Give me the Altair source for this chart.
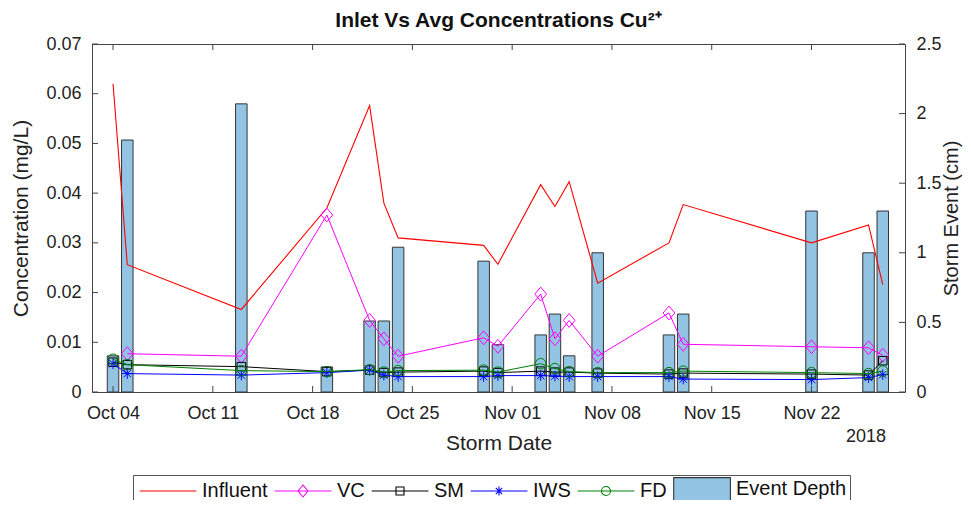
import altair as alt
import pandas as pd

# ---------------- data ----------------
dates = ["2018-10-04", "2018-10-05", "2018-10-13", "2018-10-19", "2018-10-22",
         "2018-10-23", "2018-10-24", "2018-10-30", "2018-10-31", "2018-11-03",
         "2018-11-04", "2018-11-05", "2018-11-07", "2018-11-12", "2018-11-13",
         "2018-11-22", "2018-11-26", "2018-11-27"]
event_depth = [0.26, 1.81, 2.07, 0.18, 0.51, 0.51, 1.04, 0.94, 0.34, 0.41,
               0.56, 0.26, 1.00, 0.41, 0.56, 1.30, 1.00, 1.30]
influent = [0.0620, 0.0256, 0.0166, 0.0370, 0.0576, 0.0380, 0.0310, 0.0295, 0.0257,
            0.0417, 0.0373, 0.0423, 0.0219, 0.0300, 0.0377, 0.0300, 0.0336, 0.0216]
vc = [None, 0.0077, 0.0072, 0.0356, 0.0144, 0.0107, 0.0072, 0.0109, 0.0092,
      0.0197, 0.0107, 0.0144, 0.0072, 0.0159, 0.0096, 0.0091, 0.0089, 0.0074]
sm = [0.0060, 0.0055, 0.0051, 0.0041, 0.0044, 0.0039, 0.0040, 0.0042, 0.0039,
      0.0042, 0.0040, 0.0040, 0.0038, 0.0036, 0.0038, 0.0036, 0.0034, 0.0063]
iws = [0.0057, 0.0037, 0.0034, 0.0039, 0.0044, 0.0034, 0.0031, 0.0031, 0.0033,
       0.0033, 0.0032, 0.0031, 0.0031, 0.0031, 0.0026, 0.0025, 0.0029, 0.0035]
fd = [0.0066, 0.0055, 0.0043, 0.0041, 0.0045, 0.0040, 0.0043, 0.0044, 0.0040,
      0.0057, 0.0047, 0.0041, 0.0039, 0.0039, 0.0042, 0.0039, 0.0037, 0.0042]

series_names = ["Influent", "VC", "SM", "IWS", "FD", "Event Depth"]
series_colors = ["#ff0000", "#ff00ff", "#000000", "#0000ff", "#008000", "#333333"]
series_fills = ["transparent", "transparent", "transparent", "transparent", "transparent", "#94c4e4"]

conc_ticks = [0, 0.01, 0.02, 0.03, 0.04, 0.05, 0.06, 0.07]
depth_ticks = [0, 0.5, 1, 1.5, 2, 2.5]
date_ticks = ["2018-10-04", "2018-10-11", "2018-10-18", "2018-10-25",
              "2018-11-01", "2018-11-08", "2018-11-15", "2018-11-22"]
year_label = ["2018"]

# ---------------- tables ----------------
rows = []
for name, vals in [("Influent", influent), ("VC", vc), ("SM", sm), ("IWS", iws), ("FD", fd)]:
    for d, v in zip(dates, vals):
        if v is not None:
            rows.append({"date": d, "series": name, "value": v})
conc_df = pd.DataFrame(rows)
depth_df = pd.DataFrame({"date": dates, "depth": event_depth})
conc_tick_df = pd.DataFrame({"value": conc_ticks})
depth_tick_df = pd.DataFrame({"depth": depth_ticks})
date_tick_df = pd.DataFrame({"date": date_ticks})
year_df = pd.DataFrame({"t": year_label})
legend_df = pd.DataFrame({"series": series_names})

# ---------------- styling ----------------
W, H = 813, 348
FONT = "Liberation Sans"
TICK_LEN = 6
AX = "#444444"

x_scale = alt.Scale(type="utc", nice=False,
                    domain=[alt.DateTime(year=2018, month=10, date=2, hours=21, utc=True),
                            alt.DateTime(year=2018, month=11, date=28, hours=5, utc=True)])
conc_scale = alt.Scale(domain=[0, 0.07], nice=False, zero=True)
depth_scale = alt.Scale(domain=[0, 2.5], nice=False, zero=True)

x_axis = alt.Axis(values=[alt.DateTime(year=int(d[:4]), month=int(d[5:7]), date=int(d[8:]), utc=True)
                          for d in date_ticks],
                  labelExpr="utcFormat(datum.value, '%b %d')",
                  ticks=False, domain=False, grid=False,
                  labelFontSize=18, labelFont=FONT, labelColor="#222", labelPadding=12,
                  title="Storm Date", titleFontSize=21, titleFont=FONT, titleFontWeight="normal",
                  titleColor="#222", titlePadding=10)
left_axis = alt.Axis(orient="left", values=conc_ticks, format="~g",
                     ticks=False, domain=False, grid=False,
                     labelFontSize=18, labelFont=FONT, labelColor="#222", labelPadding=11,
                     title="Concentration (mg/L)", titleFontSize=21, titleFont=FONT,
                     titleFontWeight="normal", titleColor="#222", titlePadding=14)
right_axis = alt.Axis(orient="right", values=depth_ticks, format="~g",
                      ticks=False, domain=False, grid=False,
                      labelFontSize=18, labelFont=FONT, labelColor="#222", labelPadding=11,
                      title="Storm Event (cm)", titleFontSize=20, titleFont=FONT,
                      titleFontWeight="normal", titleColor="#222", titlePadding=0,
                      titleAngle=270, titleBaseline="top")

X = alt.X("date:T", scale=x_scale, axis=x_axis)
Y_conc = alt.Y("value:Q", scale=conc_scale, axis=left_axis)
Y_depth = alt.Y("depth:Q", scale=depth_scale, axis=right_axis)

# legend symbols: line with the series marker in its middle (units of 10 px)
legend_paths = [
    "M-0.73,0H4.94",
    "M-0.73,0H4.94M2.1,-0.6L2.6,0L2.1,0.6L1.6,0Z",
    "M-0.73,0H4.94M1.7,-0.4H2.5V0.4H1.7Z",
    "M-0.73,0H4.94M2.1,-0.45V0.45M1.78,-0.32L2.42,0.32M1.78,0.32L2.42,-0.32",
    "M-0.73,0H4.94M1.65,0A0.45,0.45 0 1,0 2.55,0A0.45,0.45 0 1,0 1.65,0",
    "M-0.73,-1.15H4.94V1.15H-0.73Z",
]
legend = alt.Legend(
    title=None, orient="none", legendX=41, legendY=431, direction="horizontal",
    labelFont=FONT, labelFontSize=20, labelColor="#111", labelLimit=300,
    symbolSize=400, symbolStrokeWidth=1.1, symbolOpacity=1, labelOffset=44,
    columnPadding=3, padding=3, strokeColor="#555", fillColor="white",
)

diamond = "M0,-1L0.85,0L0,1L-0.85,0Z"
asterisk = "M-1,0H1M0,-1V1M-0.7,-0.7L0.7,0.7M-0.7,0.7L0.7,-0.7"
series_defs = [("Influent", None, "#ff0000", 0),
               ("VC", diamond, "#ff00ff", 190),
               ("SM", "square", "#000000", 72),
               ("IWS", asterisk, "#0000ff", 110),
               ("FD", "circle", "#008000", 110)]

# ---------------- right group: bars (event depth) ----------------
bars = alt.Chart(depth_df).mark_bar(width=11.5, fill="#94c4e4", stroke="#333333",
                                    strokeWidth=1).encode(x=X, y=Y_depth)
right_ticks = alt.Chart(depth_tick_df).mark_rule(color=AX, strokeWidth=1).encode(
    y=Y_depth, x=alt.value(W), x2=alt.value(W - TICK_LEN),
)
right_group = alt.layer(bars, right_ticks)

# ---------------- left group: concentrations ----------------
series_layers = []
for name, shp, col, sz in series_defs:
    if shp is None:
        mk = alt.Chart(conc_df).mark_line(color=col, strokeWidth=1.1)
    else:
        mk = alt.Chart(conc_df).mark_line(
            color=col, strokeWidth=1,
            point=alt.OverlayMarkDef(shape=shp, filled=False, color=col, size=sz,
                                     strokeWidth=1, opacity=1))
    series_layers.append(mk.transform_filter(alt.datum.series == name).encode(
        x=X, y=Y_conc, order=alt.Order("date:T")))

legend_layer = alt.Chart(legend_df).mark_point(opacity=1, size=0).encode(
    shape=alt.Shape("series:N", scale=alt.Scale(domain=series_names, range=legend_paths),
                    legend=legend),
    stroke=alt.Stroke("series:N", scale=alt.Scale(domain=series_names, range=series_colors),
                      legend=legend),
    fill=alt.Fill("series:N", scale=alt.Scale(domain=series_names, range=series_fills),
                  legend=legend),
)

left_ticks = alt.Chart(conc_tick_df).mark_rule(color=AX, strokeWidth=1).encode(
    y=Y_conc, x=alt.value(0), x2=alt.value(TICK_LEN),
)
bottom_ticks = alt.Chart(date_tick_df).mark_rule(color=AX, strokeWidth=1).encode(
    x=X, y=alt.value(H), y2=alt.value(H - TICK_LEN),
)
top_ticks = alt.Chart(date_tick_df).mark_rule(color=AX, strokeWidth=1).encode(
    x=X, y=alt.value(0), y2=alt.value(TICK_LEN),
)
year_text = alt.Chart(year_df).mark_text(align="right", baseline="middle", font=FONT,
                                         fontSize=18, color="#222").encode(
    text="t:N", x=alt.value(W - 19), y=alt.value(H + 45),
)
left_group = alt.layer(*series_layers, left_ticks, bottom_ticks, top_ticks,
                       year_text, legend_layer)

chart = alt.layer(right_group, left_group).resolve_scale(y="independent").properties(
    width=W, height=H,
    autosize="none",
    padding={"left": 84, "top": 36, "right": 58, "bottom": 108},
    title=alt.TitleParams("Inlet Vs Avg Concentrations Cu²⁺", font=FONT, fontSize=21,
                          fontWeight="bold", color="#111", anchor="middle", offset=4),
).configure_view(stroke=AX, strokeWidth=1)

chart.save("out.html", embed_options={"renderer": "svg", "actions": False})
